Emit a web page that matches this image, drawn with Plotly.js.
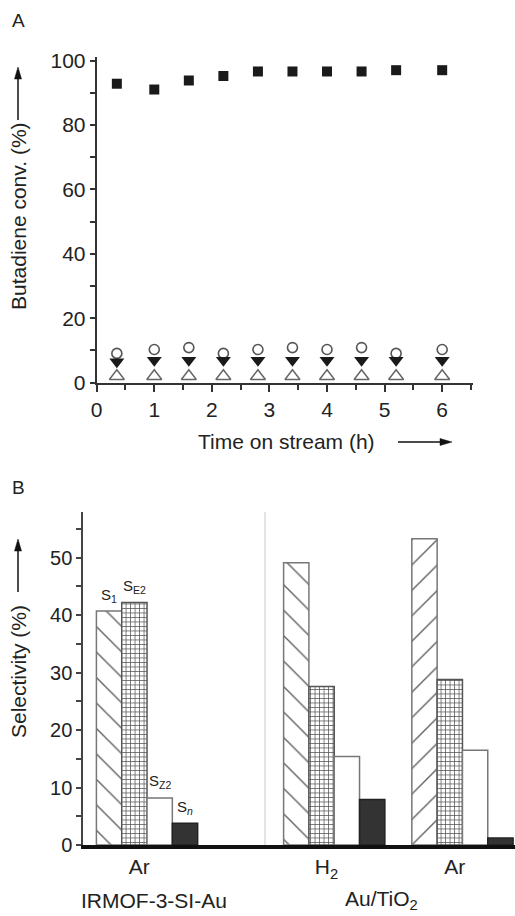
<!DOCTYPE html>
<html>
<head>
<meta charset="utf-8">
<script src="https://cdn.plot.ly/plotly-3.0.1.min.js"></script>
<style>html,body{margin:0;padding:0;background:#fff;}#chart{width:515px;height:916px;}</style>
</head>
<body>
<div id="chart"></div>
<script>
// ---------- Panel A data ----------
const timeOnStream = [0.35, 1.0, 1.6, 2.2, 2.8, 3.4, 4.0, 4.6, 5.2, 6.0];
const butadieneConv = [92.8, 91.0, 93.8, 95.2, 96.6, 96.6, 96.6, 96.6, 97.0, 97.0];
const openCircle = [9.1, 10.3, 10.9, 9.1, 10.3, 10.9, 10.3, 10.9, 9.1, 10.3];
const filledTriDown = [6.5, 7.0, 7.0, 7.0, 7.0, 7.0, 7.0, 7.0, 7.0, 7.0];
const openTriUp = [2.0, 2.0, 2.0, 2.0, 2.0, 2.0, 2.0, 2.0, 2.0, 2.0];

// ---------- Panel B data ----------
const conditionLabels = ['Ar', 'H<sub>2</sub>', 'Ar'];
const groupPos = [0.496, 1.953, 2.951];
const S1 = [40.7, 49.1, 53.3];
const SE2 = [42.2, 27.6, 28.8];
const SZ2 = [8.2, 15.4, 16.5];
const Sn = [3.8, 7.9, 1.2];
const seriesNames = ['S<sub>1</sub>', 'S<sub>E2</sub>', 'S<sub>Z2</sub>', 'S<sub><i>n</i></sub>'];
const catalystLabels = ['IRMOF-3-SI-Au', 'Au/TiO<sub>2</sub>'];

const W = 515, H = 916;
const FONT = 'Liberation Sans, Arial, Helvetica, sans-serif';
const TXT = '#222';
const px = x => x / W;
const py = y => 1 - y / H;

const bw = 0.197;
const dark = '#111';

const traces = [
  {x: timeOnStream, y: butadieneConv, type: 'scatter', mode: 'markers', xaxis: 'x', yaxis: 'y', cliponaxis: false,
   marker: {symbol: 'square', size: 10, color: '#1a1a1a'}},
  {x: timeOnStream, y: openCircle, type: 'scatter', mode: 'markers', xaxis: 'x', yaxis: 'y', cliponaxis: false,
   marker: {symbol: 'circle-open', size: 10, color: '#555', line: {width: 1.6}}},
  {x: timeOnStream, y: openTriUp, type: 'scatter', mode: 'markers', xaxis: 'x', yaxis: 'y', cliponaxis: false,
   marker: {symbol: 'triangle-up-open', size: 13, color: '#666', line: {width: 1.5}}},
  {x: timeOnStream, y: filledTriDown, type: 'scatter', mode: 'markers', xaxis: 'x', yaxis: 'y', cliponaxis: false,
   marker: {symbol: 'triangle-down', size: 13, color: '#1a1a1a'}},
  // Panel B bars
  {x: groupPos, y: S1, type: 'bar', xaxis: 'x2', yaxis: 'y2', width: bw, offset: -2 * bw,
   marker: {color: 'white', line: {color: '#777', width: 1.5},
            pattern: {shape: ['\\', '\\', '/'], fgcolor: '#666', bgcolor: 'white', size: 18, solidity: 0.08}}},
  {x: groupPos, y: SE2, type: 'bar', xaxis: 'x2', yaxis: 'y2', width: bw, offset: -1 * bw,
   marker: {color: 'white', line: {color: '#555', width: 1.5},
            pattern: {shape: '+', fgcolor: '#555', bgcolor: 'white', size: 4.5, solidity: 0.3}}},
  {x: groupPos, y: SZ2, type: 'bar', xaxis: 'x2', yaxis: 'y2', width: bw, offset: 0,
   marker: {color: 'white', line: {color: '#777', width: 1.5}}},
  {x: groupPos, y: Sn, type: 'bar', xaxis: 'x2', yaxis: 'y2', width: bw, offset: bw,
   marker: {color: '#333', line: {color: '#222', width: 1.5}}}
];

const tickFontA = {family: FONT, size: 21, color: TXT};
const tickFontB = {family: FONT, size: 20, color: TXT};

function lab(text, x, y, size, extra) {
  return Object.assign({text: text, x: px(x), y: py(y), xref: 'paper', yref: 'paper', xanchor: 'center', yanchor: 'middle',
    showarrow: false, font: {family: FONT, size: size, color: TXT}}, extra || {});
}

const annotations = [
  lab('A', 18, 20, 19),
  lab('B', 18, 487, 19),
  lab('Butadiene conv. (%)', 18, 216, 21, {textangle: -90}),
  lab('Time on stream (h)', 286, 442, 21),
  lab('Selectivity (%)', 18, 672, 21, {textangle: -90}),
  lab(catalystLabels[0], 154, 900, 21),
  lab(catalystLabels[1], 381, 900, 21)
];

// Series labels above the first group's bars
const firstGroupVals = [S1[0], SE2[0], SZ2[0], Sn[0]];
firstGroupVals.forEach((v, k) => {
  annotations.push({text: seriesNames[k], x: groupPos[0] + (k - 1.5) * bw, y: v, xref: 'x2', yref: 'y2',
    xanchor: 'center', yanchor: 'middle', yshift: 16, showarrow: false, font: {family: FONT, size: 15, color: TXT}});
});

// arrows drawn as shapes (line + filled head), in paper coordinates
function arrowShapes(x0, y0, x1, y1) {
  const len = Math.hypot(x1 - x0, y1 - y0);
  const ux = (x1 - x0) / len, uy = (y1 - y0) / len;
  const hl = 12, hw = 3.5;
  const bx = x1 - ux * hl, by = y1 - uy * hl;
  const nx = -uy, ny = ux;
  const p = (x, y) => px(x) + ',' + py(y);
  return [
    {type: 'line', xref: 'paper', yref: 'paper', x0: px(x0), y0: py(y0), x1: px(bx), y1: py(by), line: {color: dark, width: 1.5}},
    {type: 'path', xref: 'paper', yref: 'paper',
     path: 'M ' + p(x1, y1) + ' L ' + p(bx + nx * hw, by + ny * hw) + ' L ' + p(bx - nx * hw, by - ny * hw) + ' Z',
     fillcolor: dark, line: {color: dark, width: 0.5}}
  ];
}

const shapes = [
  {type: 'line', xref: 'x2', yref: 'y2 domain', x0: 1.414, x1: 1.414, y0: 0, y1: 1,
   line: {color: '#dcdcdc', width: 1.5}, layer: 'below'}
].concat(arrowShapes(18, 120, 18, 67), arrowShapes(18, 592, 18, 539), arrowShapes(398, 442, 452, 442));

const layout = {
  width: W, height: H,
  margin: {l: 0, r: 0, t: 0, b: 0},
  paper_bgcolor: 'white', plot_bgcolor: 'white',
  showlegend: false,
  barmode: 'overlay',
  xaxis: {domain: [96.7 / W, 472.7 / W], range: [0, 6.53], anchor: 'y',
          tickvals: [0, 1, 2, 3, 4, 5, 6], ticks: 'outside', ticklen: 7, tickwidth: 2, tickcolor: '#333',
          minor: {dtick: 0.5, tick0: 0, ticks: 'outside', ticklen: 5, tickwidth: 2, tickcolor: '#333', showgrid: false},
          showline: true, linecolor: '#333', linewidth: 2, showgrid: false, zeroline: false,
          tickfont: tickFontA, fixedrange: true},
  yaxis: {domain: [1 - 382.7 / H, 1 - 57.3 / H], range: [0, 101], anchor: 'x',
          tickvals: [0, 20, 40, 60, 80, 100], ticks: 'outside', ticklen: 5, tickwidth: 2, tickcolor: '#333',
          minor: {dtick: 10, tick0: 0, ticks: 'outside', ticklen: 5, tickwidth: 2, tickcolor: '#333', showgrid: false},
          showline: true, linecolor: '#333', linewidth: 2, showgrid: false, zeroline: false,
          tickfont: tickFontA, fixedrange: true},
  xaxis2: {domain: [83.3 / W, 1], range: [0, 3.36], anchor: 'y2',
           tickvals: groupPos.map(g => g - 0.06), ticktext: conditionLabels, ticks: '',
           showline: true, linecolor: '#111', linewidth: 4, showgrid: false, zeroline: false,
           tickfont: {family: FONT, size: 21, color: TXT}, fixedrange: true},
  yaxis2: {domain: [1 - 845 / H, 1 - 511.7 / H], range: [0, 58], anchor: 'x2',
           tickvals: [0, 10, 20, 30, 40, 50], ticks: 'outside', ticklen: 5, tickwidth: 2, tickcolor: '#444',
           minor: {dtick: 5, tick0: 0, ticks: 'outside', ticklen: 5, tickwidth: 2, tickcolor: '#444', showgrid: false},
           showline: true, linecolor: '#444', linewidth: 2, showgrid: false, zeroline: false,
           tickfont: tickFontB, fixedrange: true},
  shapes: shapes,
  annotations: annotations
};

Plotly.newPlot('chart', traces, layout, {displayModeBar: false, staticPlot: true});
</script>
</body>
</html>
